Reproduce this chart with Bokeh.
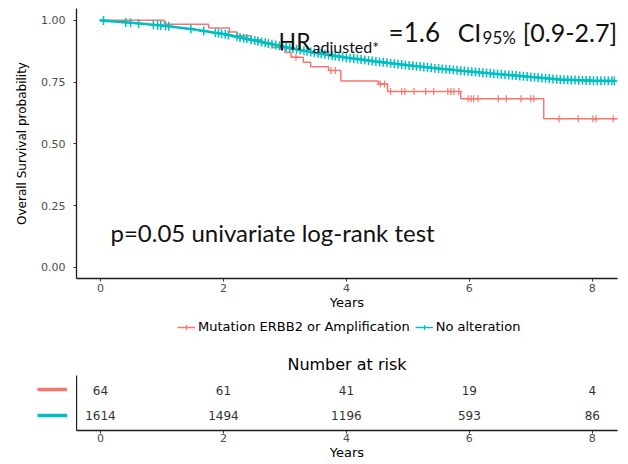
import numpy as np
from bokeh.plotting import figure
from bokeh.layouts import column, row
from bokeh.models import (Range1d, FixedTicker, Legend, LegendItem, Label,
                          ColumnDataSource, NumeralTickFormatter)
from bokeh.embed import file_html
from bokeh.resources import INLINE
from bokeh.core.properties import value

RED = "#F8766D"
CYAN = "#00BFC4"

# ---------------- data ----------------
group_names = ["Mutation ERBB2 or Amplification", "No alteration"]

red_time = [0, 1.04, 1.76, 2.10, 2.22, 2.45, 2.62, 2.80, 3.00, 3.10, 3.30, 3.42,
            3.71, 3.91, 4.52, 4.67, 5.86, 7.21, 8.42]
red_surv = [1.000, 0.984, 0.969, 0.953, 0.938, 0.922, 0.906, 0.890, 0.870, 0.851,
            0.830, 0.812, 0.797, 0.755, 0.742, 0.712, 0.683, 0.602, 0.602]
red_censor = [2.95, 3.18, 3.75, 3.82, 4.55, 4.62, 4.72, 4.90, 4.95, 5.10, 5.29, 5.42,
              5.65, 5.70, 5.75, 5.83, 5.98, 6.03, 6.07, 6.14, 6.47, 6.60, 6.84,
              7.00, 7.05, 7.46, 7.77, 8.01, 8.06, 8.34]

cyan_time = [0, 0.5, 1.0, 1.5, 2.0, 2.5, 3.0, 3.5, 4.0, 4.5, 5.0, 5.5, 6.0, 6.5,
             7.0, 7.5, 8.0, 8.36]
cyan_surv = [1.000, 0.990, 0.979, 0.964, 0.945, 0.919, 0.892, 0.868, 0.849, 0.833,
             0.818, 0.805, 0.793, 0.782, 0.771, 0.760, 0.756, 0.755]
cyan_censor = [0.05, 0.41, 0.49, 0.62, 0.86, 0.93, 0.98, 1.06, 1.11, 1.47, 1.68, 1.87,
               1.92, 1.97, 2.03, 2.08, 2.22, 2.27, 2.33, 2.38, 2.45, 2.51, 2.56, 2.62,
               2.68, 2.73, 2.79, 2.85, 2.91, 2.96, 3.02, 3.08, 3.13, 3.19, 3.25, 3.31,
               3.36, 3.42, 3.48, 3.54, 3.59, 3.65, 3.71, 3.77, 3.82, 3.88, 3.94, 4.00,
               4.06, 4.12, 4.18, 4.24, 4.30, 4.36, 4.42, 4.48, 4.54, 4.60, 4.66, 4.72,
               4.78, 4.84, 4.90, 4.96, 5.02, 5.08, 5.14, 5.20, 5.26, 5.32, 5.38, 5.44,
               5.50, 5.56, 5.62, 5.68, 5.74, 5.80, 5.86, 5.92, 5.98, 6.04, 6.10, 6.16,
               6.22, 6.28, 6.34, 6.40, 6.46, 6.52, 6.58, 6.64, 6.70, 6.76, 6.82, 6.88,
               6.94, 7.00, 7.06, 7.12, 7.18, 7.24, 7.30, 7.36, 7.42, 7.48, 7.54, 7.60,
               7.66, 7.72, 7.78, 7.84, 7.90, 7.96, 8.02, 8.08, 8.14, 8.20, 8.26, 8.32,
               8.36]

x_ticks = [0, 2, 4, 6, 8]
y_ticks = [0, 0.25, 0.5, 0.75, 1.0]

risk_times = [0, 2, 4, 6, 8]
risk_mut = [64, 61, 41, 19, 4]
risk_noalt = [1614, 1494, 1196, 593, 86]

p_text = "p=0.05 univariate log-rank test"

# ---------------- helpers ----------------
def step_at(times, surv, t):
    idx = np.searchsorted(np.array(times), np.array(t), side="right") - 1
    return list(np.array(surv)[idx])

red_censor_y = step_at(red_time, red_surv, red_censor)
cyan_censor_y = list(np.interp(cyan_censor, cyan_time, cyan_surv))

LAB_FONT = "DejaVu Sans"
ANN_FONT = "Lato"

def style_axes(p):
    p.outline_line_color = None
    p.xgrid.visible = False
    p.ygrid.visible = False
    for ax in (p.xaxis[0], p.yaxis[0]):
        ax.axis_line_color = "#1a1a1a"
        ax.axis_line_width = 1.3
        ax.major_tick_line_color = "#333333"
        ax.major_tick_in = 0
        ax.major_tick_out = 3
        ax.minor_tick_line_color = None
        ax.major_label_text_font = LAB_FONT
        ax.major_label_text_font_size = "11px"
        ax.major_label_text_color = "#4D4D4D"
        ax.axis_label_text_font = LAB_FONT
        ax.axis_label_text_font_size = "12px"
        ax.axis_label_text_font_style = "normal"
        ax.axis_label_text_color = "#000000"

# key-only panels: ranges far away from the data so only legend keys are seen
def bare(w, h, **kw):
    f = figure(width=w, height=h, x_range=Range1d(-100, -99), y_range=Range1d(-100, -99),
               x_axis_location=None, y_axis_location=None, output_backend="svg",
               toolbar_location=None, **kw)
    f.outline_line_color = None
    f.grid.visible = False
    return f

x_range = Range1d(-0.39, 8.41)

# ---------------- survival plot ----------------
p1 = figure(width=628, height=312, x_range=x_range, y_range=Range1d(-0.045, 1.048),
            output_backend="svg", toolbar_location=None,
            min_border_left=76, min_border_right=11, min_border_top=8, min_border_bottom=34)
style_axes(p1)
p1.xaxis.ticker = FixedTicker(ticks=x_ticks)
p1.yaxis.ticker = FixedTicker(ticks=y_ticks)
p1.yaxis.formatter = NumeralTickFormatter(format="0.00")
p1.xaxis.axis_label = "Years"
p1.xaxis.axis_label_text_font_size = "13px"
p1.yaxis.axis_label = "Overall Survival probability"
p1.xaxis.major_label_standoff = 2
p1.xaxis.axis_label_standoff = 0
p1.yaxis.major_label_standoff = 8
p1.yaxis.axis_label_standoff = 9

p1.step(red_time, red_surv, mode="after", line_color=RED, line_width=1.5)
p1.scatter(red_censor, red_censor_y, marker="cross", size=7, line_color=RED, line_width=1.2)
p1.line(cyan_time, cyan_surv, line_color=CYAN, line_width=2.6)
p1.scatter(cyan_censor, cyan_censor_y, marker="cross", size=9, line_color=CYAN, line_width=1.5)

def ann(x, y, text, size):
    p1.add_layout(Label(x=x, y=y, text=text, text_font=ANN_FONT, text_font_size=size,
                        text_color="#111111", text_baseline="alphabetic"))

ann(2.897, 0.915, "HR", "23px")
ann(3.45, 0.893, "adjusted*", "16px")
ann(4.687, 0.951, "=1.6", "26px")
ann(5.81, 0.951, "CI", "25px")
ann(6.216, 0.931, "95%", "17px")
ann(6.867, 0.951, "[0.9-2.7]", "25px")
ann(0.163, 0.142, p_text, "24px")

# ---------------- legend row ----------------
p_leg = bare(628, 30, min_border=0)
lr1 = p_leg.line(red_time, red_surv, line_color=RED, line_width=1.5)
ls1 = p_leg.scatter(red_censor, red_censor_y, marker="cross", size=8, line_color=RED, line_width=1.2)
lr2 = p_leg.line(cyan_time, cyan_surv, line_color=CYAN, line_width=1.5)
ls2 = p_leg.scatter(cyan_censor, cyan_censor_y, marker="cross", size=8, line_color=CYAN, line_width=1.2)
leg = Legend(items=[LegendItem(label=group_names[0], renderers=[lr1, ls1]),
                    LegendItem(label=group_names[1], renderers=[lr2, ls2])],
             orientation="horizontal", location=(99, 6),
             label_text_font=LAB_FONT, label_text_font_size="13px",
             label_text_color="#000000", glyph_width=18, glyph_height=12,
             label_height=14, label_standoff=3, spacing=5, padding=2, margin=0,
             border_line_alpha=0, background_fill_alpha=0)
p_leg.add_layout(leg, "center")

# ---------------- risk table ----------------
p2 = figure(width=552, height=120, x_range=x_range, y_range=Range1d(0.385, 2.615),
            output_backend="svg", toolbar_location=None, title="Number at risk",
            min_border_left=0, min_border_right=11, min_border_top=33, min_border_bottom=29)
style_axes(p2)
p2.title.align = "center"
p2.title.text_font = LAB_FONT
p2.title.text_font_size = "16px"
p2.title.text_font_style = "normal"
p2.title.text_color = "#000000"
p2.title.standoff = 3
p2.xaxis.ticker = FixedTicker(ticks=x_ticks)
p2.xaxis.axis_label = "Years"
p2.xaxis.axis_label_text_font_size = "13px"
p2.xaxis.major_label_standoff = 0
p2.xaxis.axis_label_standoff = 0
p2.yaxis.ticker = FixedTicker(ticks=[])
p2.yaxis.major_tick_out = 0
p2.yaxis.major_label_standoff = 0
p2.yaxis.major_label_text_font_size = "0px"

row_mut = [2] * len(risk_mut)
row_noalt = [1] * len(risk_noalt)
src = ColumnDataSource(dict(
    x=risk_times + risk_times,
    y=row_mut + row_noalt,
    t=[str(v) for v in risk_mut] + [str(v) for v in risk_noalt],
))
p2.text(x="x", y="y", text="t", source=src, text_align="center", text_baseline="middle",
        text_font=value(LAB_FONT), text_font_size="12px", text_color="#333333")

# strata keys left of the risk table
p_key = bare(76, 120, min_border_left=0, min_border_right=0,
             min_border_top=33, min_border_bottom=29)
k_red = p_key.line(risk_times, row_mut, line_color=RED, line_width=3.5)
k_cy = p_key.line(risk_times, row_noalt, line_color=CYAN, line_width=3.5)
leg2 = Legend(items=[LegendItem(label=" ", renderers=[k_red]),
                     LegendItem(label=" ", renderers=[k_cy])],
              orientation="vertical", location=(37, 11),
              glyph_width=30, glyph_height=8, label_width=0, label_height=0,
              label_standoff=0, label_text_font_size="1px", spacing=18,
              padding=0, margin=0, border_line_alpha=0, background_fill_alpha=0)
p_key.add_layout(leg2, "center")

layout = column(p1, p_leg, row(p_key, p2))
open("out.html", "w").write(file_html(layout, INLINE))
